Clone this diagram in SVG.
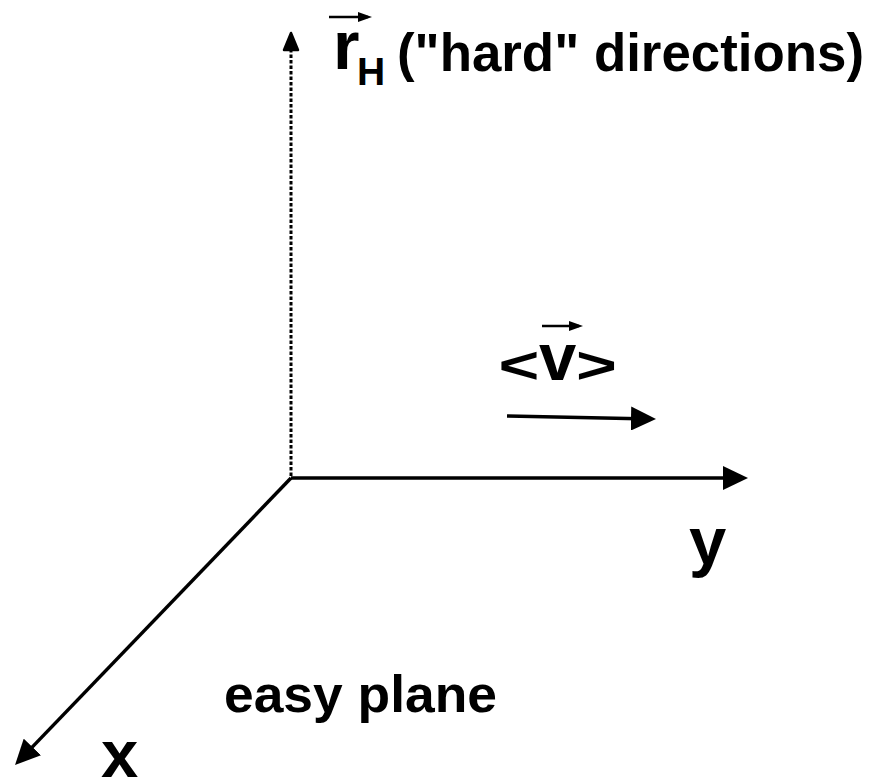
<svg xmlns="http://www.w3.org/2000/svg" width="884" height="783" viewBox="0 0 884 783">
<style>
text{font-family:"Liberation Sans",Arial,sans-serif;font-weight:bold;fill:#000}
.ax{stroke:#000;stroke-width:3.5;fill:none}
.vec{stroke:#000;stroke-width:2.5;fill:none}
.dot{stroke:#000;stroke-width:3;stroke-dasharray:3.5 2;fill:none}
</style>
<defs>
<marker id="ah" markerUnits="userSpaceOnUse" markerWidth="26" markerHeight="24" refX="20" refY="12" orient="auto"><path d="M0,0 L25,12 L0,24 z" fill="#000"/></marker>
<marker id="sh" markerUnits="userSpaceOnUse" markerWidth="15" markerHeight="10" refX="10" refY="5" orient="auto"><path d="M0,0 L14,5 L0,10 z" fill="#000"/></marker>
</defs>
<rect width="884" height="783" fill="#fff"/>
<g id="connectors">
<path class="dot" d="M291,476 L291,50"/>
<polygon points="291,33 298,50 284,50" fill="#000" stroke="#000" stroke-width="2.5" stroke-linejoin="round"/>
<path class="ax" d="M291,478 L743,478" marker-end="url(#ah)"/>
<path class="ax" d="M291,478 L18.5,761.4" marker-end="url(#ah)"/>
<path class="ax" d="M507,416 L651,418.9" marker-end="url(#ah)"/>
</g>
<g id="label-rH">
<path class="vec" d="M329,17 L368,17" marker-end="url(#sh)"/>
<text x="333" y="69" font-size="68">r</text>
<text x="357" y="85" font-size="39">H</text>
<text x="397" y="71" font-size="53" textLength="467" lengthAdjust="spacingAndGlyphs">("hard" directions)</text>
</g>
<g id="label-v">
<path class="vec" d="M542,326 L579,326" marker-end="url(#sh)"/>
<text transform="translate(498.6,383) scale(1,0.73)" font-size="70">&lt;</text>
<text x="539" y="380" font-size="67">v</text>
<text transform="translate(576,383) scale(1,0.73)" font-size="70">&gt;</text>
</g>
<g id="label-y"><text x="689" y="564" font-size="67">y</text></g>
<g id="label-x"><text x="101" y="777" font-size="67">x</text></g>
<g id="label-easy"><text x="224" y="712" font-size="52" textLength="273" lengthAdjust="spacingAndGlyphs">easy plane</text></g>
</svg>
